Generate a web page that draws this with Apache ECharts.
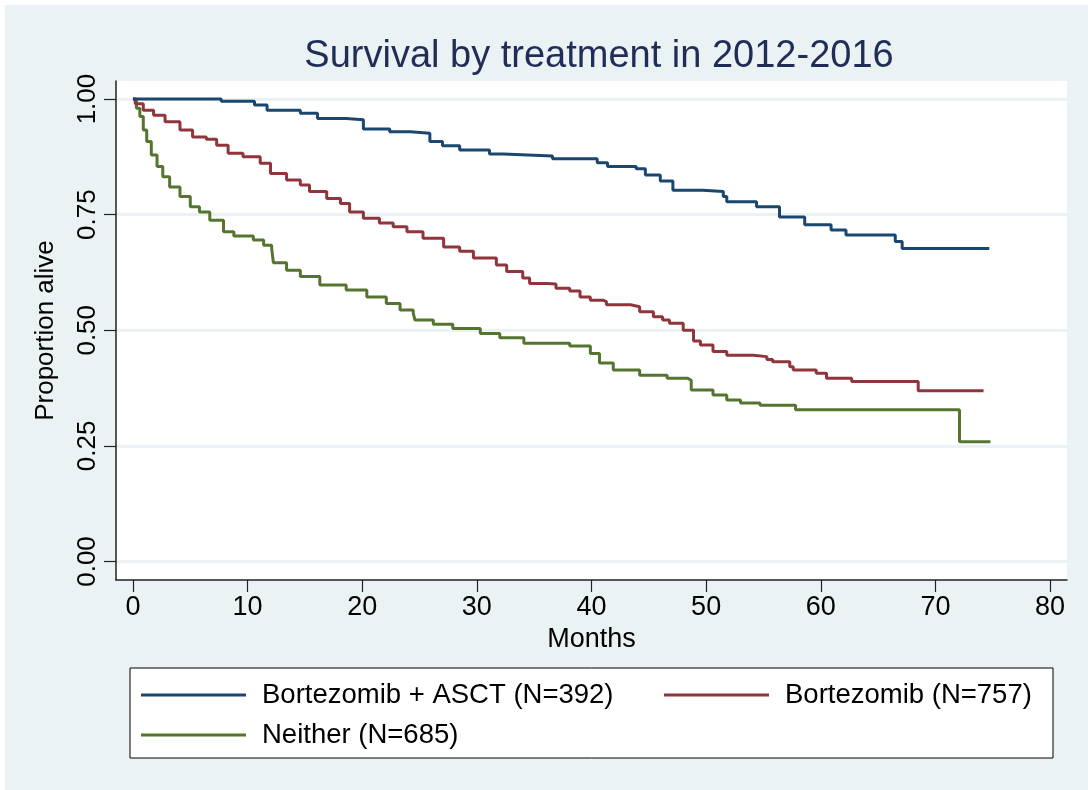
<!DOCTYPE html>
<html>
<head>
<meta charset="utf-8">
<title>Survival by treatment in 2012-2016</title>
<script src="https://cdn.jsdelivr.net/npm/echarts@6/dist/echarts.min.js"></script>
<style>
  html, body { margin: 0; padding: 0; background: #fff; }
  #chart { width: 1088px; height: 790px; }
</style>
</head>
<body>
<div id="chart"></div>
<script>
// KM steps (months, proportion alive)
const asctMonths = [0, 7.7, 10.6, 11.7, 14.6, 16.1, 18.6, 20.1, 22.4, 24.2, 25.9, 27.0, 28.5, 31.1, 32.3, 36.6, 40.5, 41.4, 43.9, 44.7, 46.0, 47.1, 49.7, 51.5, 51.8, 54.4, 56.4, 58.6, 60.9, 62.2, 66.5, 67.1, 74.7];
const asctSurv = [1, 0.995, 0.987, 0.976, 0.969, 0.958, 0.955, 0.935, 0.929, 0.926, 0.908, 0.899, 0.890, 0.881, 0.877, 0.871, 0.862, 0.854, 0.849, 0.836, 0.823, 0.803, 0.800, 0.789, 0.778, 0.767, 0.745, 0.728, 0.717, 0.706, 0.692, 0.677, 0.677];

const bortMonths = [0, 0.2, 0.9, 1.8, 2.8, 4.1, 5.2, 6.4, 7.3, 8.3, 9.6, 11.1, 12.0, 13.4, 14.6, 15.4, 16.9, 18.1, 18.9, 20.1, 21.5, 22.7, 23.9, 25.3, 27.1, 28.5, 29.7, 31.7, 32.6, 34.0, 34.6, 36.1, 36.9, 38.1, 39.0, 39.9, 41.0, 41.3, 43.4, 44.2, 45.4, 46.2, 46.8, 48.0, 48.9, 49.5, 50.6, 51.8, 54.1, 55.3, 55.8, 57.3, 57.6, 59.6, 60.5, 62.7, 68.5, 74.2];
const bortSurv = [1, 0.99, 0.976, 0.965, 0.951, 0.933, 0.918, 0.913, 0.900, 0.883, 0.875, 0.861, 0.839, 0.825, 0.814, 0.800, 0.785, 0.774, 0.756, 0.742, 0.732, 0.724, 0.713, 0.699, 0.680, 0.671, 0.656, 0.641, 0.627, 0.613, 0.601, 0.600, 0.591, 0.585, 0.572, 0.565, 0.562, 0.555, 0.551, 0.540, 0.529, 0.522, 0.515, 0.500, 0.477, 0.468, 0.454, 0.446, 0.443, 0.437, 0.432, 0.421, 0.414, 0.407, 0.396, 0.389, 0.369, 0.369];

const neitherMonths = [0, 0.3, 0.6, 0.9, 1.2, 1.6, 2.1, 2.6, 3.2, 4.1, 5.0, 5.8, 6.7, 7.9, 8.8, 10.5, 11.4, 12.1, 12.25, 13.4, 14.6, 16.3, 18.6, 20.4, 22.1, 23.3, 24.45, 24.6, 26.2, 27.9, 30.3, 32.0, 34.1, 38.1, 39.9, 40.7, 41.9, 44.2, 46.6, 48.4, 48.7, 50.6, 51.8, 53.0, 54.7, 57.8, 72.1, 74.8];
const neitherSurv = [1, 0.98, 0.962, 0.933, 0.908, 0.879, 0.854, 0.832, 0.810, 0.789, 0.767, 0.756, 0.738, 0.713, 0.704, 0.695, 0.684, 0.677, 0.646, 0.630, 0.616, 0.598, 0.587, 0.572, 0.558, 0.544, 0.537, 0.522, 0.513, 0.504, 0.493, 0.484, 0.472, 0.466, 0.450, 0.429, 0.414, 0.403, 0.396, 0.392, 0.371, 0.360, 0.349, 0.343, 0.338, 0.328, 0.259, 0.259];

const seriesNames = ['Bortezomib + ASCT (N=392)', 'Bortezomib (N=757)', 'Neither (N=685)'];
const seriesColors = ['#1a476f', '#90353b', '#55752f'];
const xTicks = [0, 10, 20, 30, 40, 50, 60, 70, 80];
const yTicks = [0, 0.25, 0.5, 0.75, 1];

const FONT = '"Liberation Sans", Arial, sans-serif';

function zip(xs, ys) {
  return xs.map((x, i) => [x, ys[i]]);
}

const myChart = echarts.init(document.getElementById('chart'), null, { renderer: 'canvas' });

const option = {
  backgroundColor: '#fff',
  animation: false,
  graphic: [
    // outer (graph region) background
    { type: 'rect', z: -100, silent: true, shape: { x: 5, y: 5, width: 1083, height: 785 }, style: { fill: '#eaf2f3' } },
    // legend frame
    { type: 'rect', z: -50, silent: true, shape: { x: 130, y: 668, width: 923, height: 90 }, style: { fill: '#fff', stroke: '#000', lineWidth: 1 } }
  ],
  title: {
    text: 'Survival by treatment in 2012-2016',
    left: 594,
    top: 33,
    textAlign: 'center',
    textStyle: { fontFamily: FONT, fontSize: 38, fontWeight: 'normal', color: '#1f2d57' }
  },
  legend: {
    data: seriesNames,
    left: 141,
    top: 681,
    width: 1040,
    padding: 0,
    itemGap: 12,
    itemWidth: 105,
    itemHeight: 26,
    icon: 'path://M0,11.5 L105,11.5 L105,14.5 L0,14.5 Z',
    textStyle: { fontFamily: FONT, fontSize: 27.5, color: '#000', width: 390, lineHeight: 26, padding: [0, 0, 0, 11] }
  },
  grid: {
    left: 116,
    right: 21,
    top: 81,
    bottom: 210,
    show: true,
    backgroundColor: '#fff',
    borderWidth: 0
  },
  xAxis: {
    type: 'value',
    min: -1.48,
    max: 81.48,
    name: 'Months',
    nameLocation: 'middle',
    nameGap: 43,
    nameTextStyle: { fontFamily: FONT, fontSize: 27, color: '#000' },
    axisLine: { show: true, onZero: false, lineStyle: { color: '#222', width: 1.5 } },
    axisTick: { show: true, length: 12, customValues: xTicks, lineStyle: { color: '#222', width: 1.2 } },
    axisLabel: { customValues: xTicks, margin: 14, fontFamily: FONT, fontSize: 27, color: '#000' },
    splitLine: { show: false }
  },
  yAxis: {
    type: 'value',
    min: -0.04,
    max: 1.039,
    name: 'Proportion alive',
    nameLocation: 'middle',
    nameGap: 57,
    nameTextStyle: { fontFamily: FONT, fontSize: 26, color: '#000' },
    axisLine: { show: true, onZero: false, lineStyle: { color: '#222', width: 1.5 } },
    axisTick: { show: true, length: 12, customValues: yTicks, lineStyle: { color: '#222', width: 1.2 } },
    axisLabel: {
      customValues: yTicks,
      rotate: 90,
      margin: 15,
      fontFamily: FONT,
      fontSize: 26,
      color: '#000',
      formatter: v => v.toFixed(2)
    },
    splitLine: { show: true, lineStyle: { color: '#eaf2f3', width: 3 } }
  },
  series: [
    [asctMonths, asctSurv],
    [bortMonths, bortSurv],
    [neitherMonths, neitherSurv]
  ].map((d, i) => ({
    name: seriesNames[i],
    type: 'line',
    step: 'end',
    symbol: 'none',
    data: zip(d[0], d[1]),
    itemStyle: { color: seriesColors[i] },
    lineStyle: { color: seriesColors[i], width: 3 },
    z: 3 - i
  }))
};

myChart.setOption(option);
</script>
</body>
</html>
